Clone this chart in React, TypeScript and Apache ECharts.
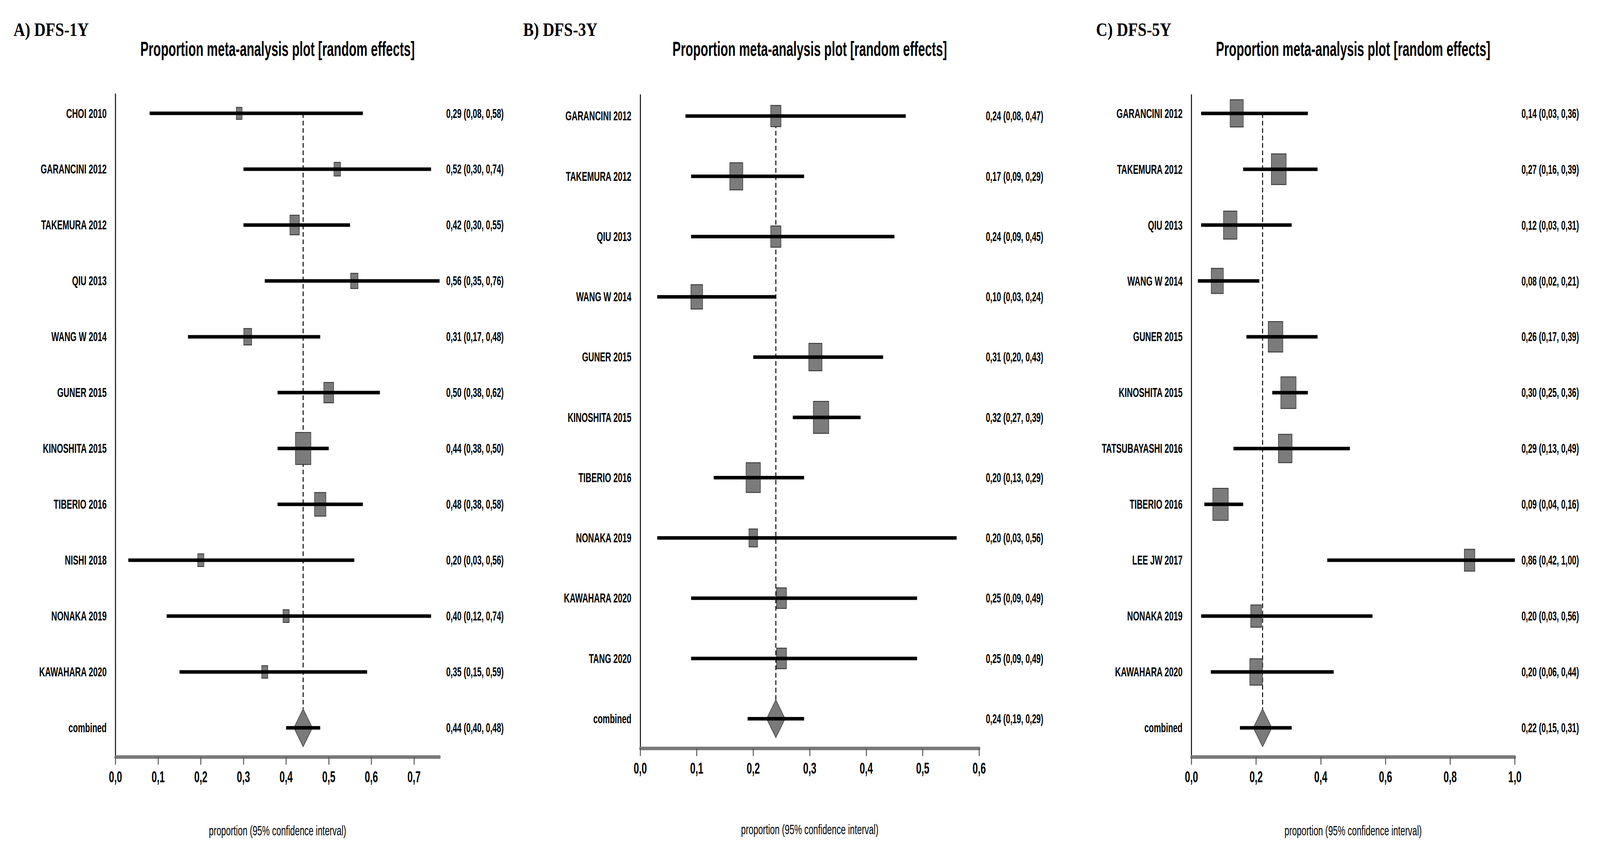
import React, { useEffect, useRef } from "react";
import * as echarts from "echarts";

// ---------- DATA ----------
// Panel A: DFS-1Y
const studiesA = ["CHOI 2010", "GARANCINI 2012", "TAKEMURA 2012", "QIU 2013", "WANG W 2014", "GUNER 2015", "KINOSHITA 2015", "TIBERIO 2016", "NISHI 2018", "NONAKA 2019", "KAWAHARA 2020"];
const estA = [0.29, 0.52, 0.42, 0.56, 0.31, 0.5, 0.44, 0.48, 0.2, 0.4, 0.35];
const lowA = [0.08, 0.3, 0.3, 0.35, 0.17, 0.38, 0.38, 0.38, 0.03, 0.12, 0.15];
const highA = [0.58, 0.74, 0.55, 0.76, 0.48, 0.62, 0.5, 0.58, 0.56, 0.74, 0.59];
const weightA = [3.9, 5.0, 10.4, 6.3, 7.3, 11.3, 27.7, 15.1, 4.4, 4.4, 4.2];
const pooledA = [0.44, 0.4, 0.48];
const ticksA = [0, 0.1, 0.2, 0.3, 0.4, 0.5, 0.6, 0.7];
const axisMaxA = 0.76;

// Panel B: DFS-3Y
const studiesB = ["GARANCINI 2012", "TAKEMURA 2012", "QIU 2013", "WANG W 2014", "GUNER 2015", "KINOSHITA 2015", "TIBERIO 2016", "NONAKA 2019", "KAWAHARA 2020", "TANG 2020"];
const estB = [0.24, 0.17, 0.24, 0.1, 0.31, 0.32, 0.2, 0.2, 0.25, 0.25];
const lowB = [0.08, 0.09, 0.09, 0.03, 0.2, 0.27, 0.13, 0.03, 0.09, 0.09];
const highB = [0.47, 0.29, 0.45, 0.24, 0.43, 0.39, 0.29, 0.56, 0.49, 0.49];
const weightB = [7.5, 12.1, 7.5, 9.8, 12.4, 16.9, 14.6, 5.3, 7.0, 7.0];
const pooledB = [0.24, 0.19, 0.29];
const ticksB = [0, 0.1, 0.2, 0.3, 0.4, 0.5, 0.6];
const axisMaxB = 0.6;

// Panel C: DFS-5Y
const studiesC = ["GARANCINI 2012", "TAKEMURA 2012", "QIU 2013", "WANG W 2014", "GUNER 2015", "KINOSHITA 2015", "TATSUBAYASHI 2016", "TIBERIO 2016", "LEE JW 2017", "NONAKA 2019", "KAWAHARA 2020"];
const estC = [0.14, 0.27, 0.12, 0.08, 0.26, 0.3, 0.29, 0.09, 0.86, 0.2, 0.2];
const lowC = [0.03, 0.16, 0.03, 0.02, 0.17, 0.25, 0.13, 0.04, 0.42, 0.03, 0.06];
const highC = [0.36, 0.39, 0.31, 0.21, 0.39, 0.36, 0.49, 0.16, 1.0, 0.56, 0.44];
const weightC = [8.7, 11.1, 9.2, 7.4, 10.8, 11.7, 9.4, 12.0, 5.6, 5.8, 8.1];
const pooledC = [0.22, 0.15, 0.31];
const ticksC = [0, 0.2, 0.4, 0.6, 0.8, 1.0];
const axisMaxC = 1.0;

const panelLabels = ["A) DFS-1Y", "B) DFS-3Y", "C) DFS-5Y"];
const plotTitle = "Proportion meta-analysis plot [random effects]";
const axisTitle = "proportion (95% confidence interval)";
const combinedLabel = "combined";

// ---------- STYLE / LAYOUT ----------
// The reference uses a strongly condensed font: the chart is laid out in a
// wider coordinate space and squeezed horizontally by Q.
const REF_W = 4848;
const REF_H = 2178;
const Q = 0.72;
const SANS = "'Liberation Sans', Arial, Helvetica, sans-serif";
const SERIF = "'Liberation Serif', 'Times New Roman', 'DejaVu Serif', serif";
const BOX_MAX = 82;
const BOX_RATIO = 0.57;
const DIAMOND_W = 56;
const DIAMOND_H = 97;

type Layout = {
  left: number; top: number; width: number; height: number;
  yMin: number; yMax: number; nameGap: number; labelLeft: number;
};

const layouts: Layout[] = [
  { left: 350, top: 241, width: 982, height: 1696, yMin: -0.343, yMax: 11.52, nameGap: 170, labelLeft: 41 },
  { left: 1940, top: 243, width: 1027, height: 1672, yMin: -0.35, yMax: 10.49, nameGap: 189, labelLeft: 1585 },
  { left: 3610, top: 243, width: 980, height: 1694, yMin: -0.33, yMax: 11.52, nameGap: 170, labelLeft: 3321 },
];

const panelData = [
  { studies: studiesA, est: estA, low: lowA, high: highA, weight: weightA, pooled: pooledA, ticks: ticksA, axisMax: axisMaxA },
  { studies: studiesB, est: estB, low: lowB, high: highB, weight: weightB, pooled: pooledB, ticks: ticksB, axisMax: axisMaxB },
  { studies: studiesC, est: estC, low: lowC, high: highC, weight: weightC, pooled: pooledC, ticks: ticksC, axisMax: axisMaxC },
];

const fmt2 = (v: number) => v.toFixed(2).replace(".", ",");
const fmt1 = (v: number) => v.toFixed(1).replace(".", ",");
const ciText = (e: number, l: number, h: number) => `${fmt2(e)} (${fmt2(l)}, ${fmt2(h)})`;

function buildOption() {
  const grid: any[] = [];
  const xAxis: any[] = [];
  const yAxis: any[] = [];
  const series: any[] = [];
  const title: any[] = [];
  const graphic: any[] = [];

  panelData.forEach((p, k) => {
    const L = layouts[k];
    const n = p.studies.length;
    const rowLabels = [...p.studies, combinedLabel];
    const rightLabels = [
      ...p.est.map((e, i) => ciText(e, p.low[i], p.high[i])),
      ciText(p.pooled[0], p.pooled[1], p.pooled[2]),
    ];
    const rowIdx = rowLabels.map((_, i) => i);
    const gLeft = L.left / Q;
    const gWidth = L.width / Q;
    const center = gLeft + gWidth / 2;

    graphic.push({
      type: "text", x: L.labelLeft / Q, y: 76, scaleX: 1 / Q,
      style: {
        text: panelLabels[k], fontFamily: SERIF, fontWeight: "bold", fontSize: 48, fill: "#000",
        align: "left", verticalAlign: "middle", textAlign: "left", textVerticalAlign: "middle",
      },
    });
    title.push({
      text: plotTitle, left: center, top: 99, textAlign: "center", padding: 0,
      textStyle: { fontFamily: SANS, fontWeight: "bold", fontSize: 52, color: "#000" },
    });

    grid.push({ left: gLeft, top: L.top, width: gWidth, height: L.height, containLabel: false, outerBoundsMode: "none" });

    xAxis.push({
      type: "value", gridIndex: k, min: 0, max: p.axisMax,
      name: axisTitle, nameLocation: "middle", nameGap: L.nameGap,
      nameTextStyle: { fontFamily: SANS, fontSize: 36, color: "#000" },
      axisLine: { show: true, onZero: false, lineStyle: { color: "#7a7a7a", width: 9 } },
      axisTick: { show: true, customValues: p.ticks, length: 20, lineStyle: { color: "#555", width: 4 } },
      axisLabel: {
        customValues: p.ticks, margin: 31, formatter: (v: number) => fmt1(v),
        fontFamily: SANS, fontWeight: "bold", fontSize: 40, color: "#000",
      },
      splitLine: { show: false },
    });

    yAxis.push({
      type: "value", gridIndex: k, inverse: true, min: L.yMin, max: L.yMax, position: "left",
      axisLine: { show: true, onZero: false, lineStyle: { color: "#000", width: 4 } },
      axisTick: { show: false },
      axisLabel: {
        customValues: rowIdx, margin: 27 / Q,
        formatter: (v: number) => rowLabels[Math.round(v)] ?? "",
        fontFamily: SANS, fontWeight: "bold", fontSize: 34, color: "#000",
      },
      splitLine: { show: false },
    });
    yAxis.push({
      type: "value", gridIndex: k, inverse: true, min: L.yMin, max: L.yMax, position: "right",
      axisLine: { show: false, onZero: false }, axisTick: { show: false },
      axisLabel: {
        customValues: rowIdx, margin: 20 / Q,
        formatter: (v: number) => rightLabels[Math.round(v)] ?? "",
        fontFamily: SANS, fontWeight: "bold", fontSize: 33, color: "#000",
      },
      splitLine: { show: false },
    });

    const xi = k;
    const yi = k * 2;

    // combined: dashed reference line, diamond, CI
    series.push({
      type: "custom", xAxisIndex: xi, yAxisIndex: yi, z: 2,
      encode: { x: [0, 1, 2], y: 3 },
      data: [[p.pooled[0], p.pooled[1], p.pooled[2], n]],
      renderItem: (_params: any, api: any) => {
        const i = api.value(3);
        const c = api.coord([api.value(0), i]);
        const top = api.coord([api.value(0), 0]);
        const l = api.coord([api.value(1), i]);
        const r = api.coord([api.value(2), i]);
        const dh = DIAMOND_H / 2;
        const dw = DIAMOND_W / 2 / Q;
        return {
          type: "group",
          children: [
            { type: "line", shape: { x1: c[0], y1: top[1], x2: c[0], y2: c[1] - dh }, style: { stroke: "#000", lineWidth: 4, lineDash: [12, 7] } },
            {
              type: "polygon",
              shape: { points: [[c[0], c[1] - dh], [c[0] + dw, c[1]], [c[0], c[1] + dh], [c[0] - dw, c[1]]] },
              style: { fill: "#7a7a7a", stroke: "#333", lineWidth: 2 },
            },
            { type: "line", shape: { x1: l[0], y1: l[1], x2: r[0], y2: r[1] }, style: { stroke: "#000", lineWidth: 9 } },
          ],
        };
      },
    });

    // individual studies: weighted box + CI line
    const wMax = Math.max(...p.weight);
    series.push({
      type: "custom", xAxisIndex: xi, yAxisIndex: yi, z: 3,
      encode: { x: [0, 1, 2], y: 3 },
      data: p.est.map((e, i) => [e, p.low[i], p.high[i], i, p.weight[i]]),
      renderItem: (_params: any, api: any) => {
        const i = api.value(3);
        const c = api.coord([api.value(0), i]);
        const l = api.coord([api.value(1), i]);
        const r = api.coord([api.value(2), i]);
        const h = BOX_MAX * Math.sqrt(api.value(4) / wMax);
        const w = (h * BOX_RATIO) / Q;
        return {
          type: "group",
          children: [
            { type: "rect", shape: { x: c[0] - w / 2, y: c[1] - h / 2, width: w, height: h }, style: { fill: "#7b7b7b", stroke: "#2a2a2a", lineWidth: 2 } },
            { type: "line", shape: { x1: l[0], y1: l[1], x2: r[0], y2: r[1] }, style: { stroke: "#000", lineWidth: 9 } },
          ],
        };
      },
    });
  });

  return {
    animation: false,
    backgroundColor: "#fff",
    textStyle: { fontFamily: SANS },
    title, grid, xAxis, yAxis, series, graphic,
  };
}

export default function App() {
  const ref = useRef<HTMLDivElement>(null);
  const vw = typeof window !== "undefined" && window.innerWidth ? window.innerWidth : REF_W;
  const vh = typeof window !== "undefined" && window.innerHeight ? window.innerHeight : REF_H;
  const sx = (vw / REF_W) * Q;
  const sy = vh / REF_H;

  useEffect(() => {
    if (!ref.current) return;
    const chart = echarts.init(ref.current, undefined, { renderer: "svg" });
    chart.setOption(buildOption() as any);
    return () => chart.dispose();
  }, []);

  return (
    <div style={{ position: "fixed", left: 0, top: 0, width: vw, height: vh, overflow: "hidden", background: "#fff" }}>
      <div
        ref={ref}
        style={{
          width: REF_W / Q,
          height: REF_H,
          transform: `scale(${sx}, ${sy})`,
          transformOrigin: "0 0",
        }}
      />
    </div>
  );
}
